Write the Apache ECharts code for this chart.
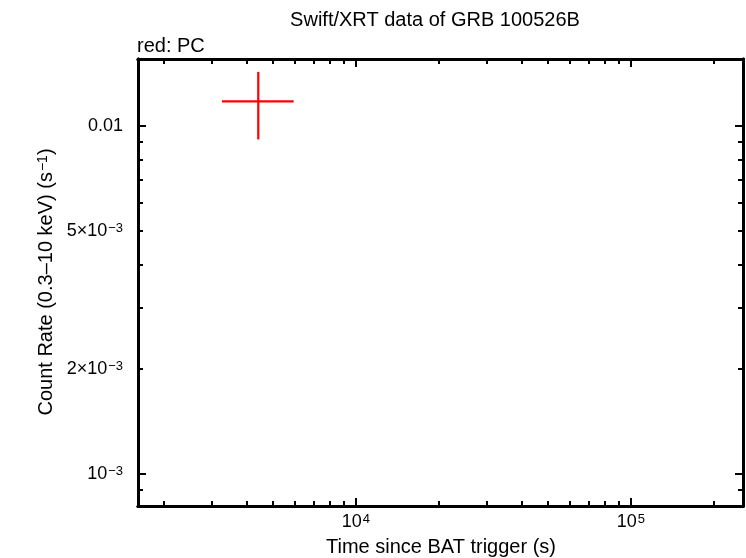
<!DOCTYPE html>
<html><head><meta charset="utf-8">
<script src="https://cdn.jsdelivr.net/npm/echarts@6/dist/echarts.min.js"></script>
<style>html,body{margin:0;padding:0;background:#fff}#c{width:746px;height:558px}</style>
</head><body><div id="c"></div>
<script>
// ---- data ----
const times = [4413];
const timeErrLo = [1157];   // time - lower edge
const timeErrHi = [1522];   // upper edge - time
const rates = [0.01175];
const rateErrLo = [0.00261];
const rateErrHi = [0.00254];
const xRange = [1612, 255500];
const yRange = [0.000808, 0.01556];
const xMajor = [1e4, 1e5];
const xLabels = ['{b|10}{s|4}', '{b|10}{s|5}'];
const yLabelVals = [0.01, 0.005, 0.002, 0.001];
const yLabels = ['{b|0.01}', '{b|5×10}{s|−3}', '{b|2×10}{s|−3}', '{b|10}{s|−3}'];
const titleText = 'Swift/XRT data of GRB 100526B';
const subText = 'red: PC';

const L = Math.log10;
function decadeTicks(lo, hi, major) {
  const out = [];
  for (let d = Math.floor(L(lo)); d <= Math.ceil(L(hi)); d++) {
    for (let k = 1; k <= 9; k++) {
      const v = k * Math.pow(10, d);
      if (v >= lo && v <= hi && ((k === 1) === major)) out.push(L(v));
    }
  }
  return out;
}
const xMin = L(xRange[0]), xMax = L(xRange[1]);
const yMin = L(yRange[0]), yMax = L(yRange[1]);
const FF = '"Liberation Sans", Arial, sans-serif';
const rich = {
  b: {fontFamily: FF, fontSize: 18, color: '#000'},
  s: {fontFamily: FF, fontSize: 13, color: '#000', verticalAlign: 'top', padding: [0,0,0,1]}
};
const richT = {
  b: {fontFamily: FF, fontSize: 20, color: '#000'},
  s: {fontFamily: FF, fontSize: 14, color: '#000', verticalAlign: 'top', padding: [0,0,0,1]}
};
function fmtLookup(vals, labels) {
  return function (v) {
    for (let i = 0; i < vals.length; i++) if (Math.abs(L(vals[i]) - v) < 1e-6) return labels[i];
    return '';
  };
}
const lineStyle = {color: '#000', width: 3};
function xAx(pos, major, labels) {
  return {
    type: 'value', position: pos, min: xMin, max: xMax, gridIndex: 0,
    axisLine: {show: true, onZero: false, lineStyle},
    splitLine: {show: false},
    axisTick: {show: true, inside: true, length: major ? 8 : 5, lineStyle: {color: '#000', width: 2},
      customValues: decadeTicks(xRange[0], xRange[1], major)},
    axisLabel: labels ? {show: true, customValues: xMajor.map(L), formatter: fmtLookup(xMajor, xLabels), rich, margin: 7}
                      : {show: false}
  };
}
function yAx(pos, major, labels) {
  return {
    type: 'value', position: pos, min: yMin, max: yMax, gridIndex: 0,
    axisLine: {show: true, onZero: false, lineStyle},
    splitLine: {show: false},
    axisTick: {show: true, inside: true, length: major ? 8 : 5, lineStyle: {color: '#000', width: 2},
      customValues: decadeTicks(yRange[0], yRange[1], major)},
    axisLabel: labels ? {show: true, customValues: yLabelVals.map(L), formatter: fmtLookup(yLabelVals, yLabels), rich, margin: 15}
                      : {show: false}
  };
}
const errData = times.map((t, i) => [L(t), L(rates[i]), L(t - timeErrLo[i]), L(t + timeErrHi[i]), L(rates[i] - rateErrLo[i]), L(rates[i] + rateErrHi[i])]);

const chart = echarts.init(document.getElementById('c'), null, {renderer: 'canvas'});
chart.setOption({
  animation: false,
  backgroundColor: '#fff',
  grid: {left: 138, right: 3, top: 59, bottom: 52, containLabel: false},
  xAxis: [xAx('bottom', false, false), xAx('bottom', true, true), xAx('top', false, false), xAx('top', true, false)],
  yAxis: [yAx('left', false, true), yAx('left', true, false), yAx('right', false, false), yAx('right', true, false)],
  series: [{
    type: 'custom', xAxisIndex: 0, yAxisIndex: 0, data: errData,
    renderItem: function (params, api) {
      const c = api.coord([api.value(0), api.value(1)]);
      const xl = api.coord([api.value(2), api.value(1)]);
      const xh = api.coord([api.value(3), api.value(1)]);
      const yl = api.coord([api.value(0), api.value(4)]);
      const yh = api.coord([api.value(0), api.value(5)]);
      const st = {stroke: '#ff0000', lineWidth: 2.2};
      return {type: 'group', children: [
        {type: 'line', shape: {x1: xl[0], y1: c[1], x2: xh[0], y2: c[1]}, style: st},
        {type: 'line', shape: {x1: c[0], y1: yl[1], x2: c[0], y2: yh[1]}, style: st}
      ]};
    }
  }],
  graphic: [
    {type: 'text', x: 435, y: 20, style: {text: titleText, font: '20px ' + FF, fill: '#000', align: 'center', verticalAlign: 'middle'}},
    {type: 'text', x: 137, y: 46, style: {text: subText, font: '20px ' + FF, fill: '#000', align: 'left', verticalAlign: 'middle'}},
    {type: 'text', x: 441, y: 547, style: {text: 'Time since BAT trigger (s)', font: '20px ' + FF, fill: '#000', align: 'center', verticalAlign: 'middle'}},
    {type: 'text', x: 46, y: 282, rotation: Math.PI / 2, style: {text: '{b|Count Rate (0.3–10 keV) (s}{s|−1}{b|)}', rich: richT, fill: '#000', align: 'center', verticalAlign: 'middle'}}
  ]
});
</script></body></html>
